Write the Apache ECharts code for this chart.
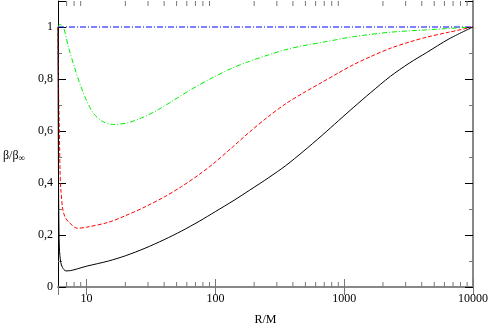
<!DOCTYPE html>
<html>
<head>
<meta charset="utf-8">
<script src="https://cdn.jsdelivr.net/npm/echarts@6/dist/echarts.min.js"></script>
<style>
  html, body { margin: 0; padding: 0; background: #fff; }
  #chart { width: 491px; height: 331px; }
</style>
</head>
<body>
<div id="chart"></div>
<script>
// R/M sample points and beta/beta_inf
const blackR = [6, 6.03, 6.08, 6.15, 6.3, 6.5, 6.9, 7.5, 8.5, 10, 14.8, 20, 28.4, 40, 54.5, 75, 100, 140, 184, 260, 352, 480, 676, 900, 1189, 1600, 2280, 3200, 4375, 6500, 10000]
const blackB = [1, 0.6, 0.3, 0.15, 0.095, 0.075, 0.062, 0.063, 0.07, 0.08, 0.1, 0.12, 0.149, 0.182, 0.215, 0.253, 0.29, 0.334, 0.372, 0.421, 0.467, 0.521, 0.584, 0.639, 0.692, 0.747, 0.81, 0.861, 0.902, 0.954, 1]

const redR = [6, 6.03, 6.08, 6.15, 6.22, 6.3, 6.53, 6.8, 7.26, 8.5, 10, 14.8, 20, 28.4, 40, 54.5, 75, 95.7, 135, 184, 260, 352, 480, 676, 900, 1189, 1600, 2280, 3200, 4375, 6500, 10000]
const redB = [1, 0.88, 0.72, 0.6, 0.45, 0.38, 0.3, 0.27, 0.25, 0.226, 0.23, 0.249, 0.274, 0.308, 0.346, 0.386, 0.433, 0.473, 0.537, 0.596, 0.657, 0.705, 0.746, 0.788, 0.823, 0.856, 0.886, 0.918, 0.942, 0.961, 0.98, 1]

const greenR = [6, 6.2, 6.6, 7.26, 8, 8.9, 10, 11.3, 13.5, 16.2, 21, 26.7, 36, 45.6, 65, 95.7, 135, 184, 260, 352, 480, 676, 1189, 2280, 4375, 10000]
const greenB = [1, 1.01, 1, 0.92, 0.85, 0.78, 0.717, 0.668, 0.635, 0.625, 0.632, 0.65, 0.682, 0.713, 0.76, 0.806, 0.842, 0.868, 0.893, 0.913, 0.928, 0.941, 0.963, 0.98, 0.989, 1]

const blueR = [6, 10000]
const blueB = [1, 1]

const xMinorTicks = [7, 8, 9, 20, 30, 40, 50, 60, 70, 80, 90, 200, 300, 400, 500, 600, 700, 800, 900, 2000, 3000, 4000, 5000, 6000, 7000, 8000, 9000]

const pairs = (xs, ys) => xs.map((x, i) => [x, ys[i]])
const serif = 'Liberation Serif, serif'
const comma = v => String(v).replace('.', ',')

const chart = echarts.init(document.getElementById('chart'))
chart.setOption({
  animation: false,
  textStyle: { fontFamily: serif },
  grid: { left: 58, right: 15, top: 1, bottom: 39 },
  xAxis: [
    {
      type: 'log', min: 6, max: 10000, logBase: 10,
      name: 'R/M', nameLocation: 'middle', nameGap: 27,
      nameTextStyle: { fontFamily: serif, fontSize: 12, color: '#000' },
      axisLine: { lineStyle: { color: '#000', width: 1 } },
      axisTick: { inside: true, length: 8, lineStyle: { color: '#777' } },
      axisLabel: { fontFamily: serif, fontSize: 12, color: '#000', margin: 6, showMinLabel: false, formatter: v => String(v) },
      splitLine: { show: false }
    },
    {
      type: 'log', min: 6, max: 10000, logBase: 10, position: 'top',
      axisLine: { lineStyle: { color: '#888', width: 2 } },
      axisTick: { inside: true, length: 8, lineStyle: { color: '#777' } },
      axisLabel: { show: false },
      splitLine: { show: false }
    }
  ],
  yAxis: [
    {
      type: 'value', min: 0, max: 1.1, interval: 0.2,
      axisLine: { show: true, lineStyle: { color: '#000', width: 1 } },
      axisTick: { inside: true, length: 8, lineStyle: { color: '#000' } },
      minorTick: { show: true, splitNumber: 2, length: 4, lineStyle: { color: '#777' } },
      axisLabel: { fontFamily: serif, fontSize: 12, color: '#000', margin: 5, showMaxLabel: false, formatter: comma },
      splitLine: { show: false }
    },
    {
      type: 'value', min: 0, max: 1.1, interval: 0.2, position: 'right',
      axisLine: { show: true, lineStyle: { color: '#888', width: 2 } },
      axisTick: { inside: true, length: 8, lineStyle: { color: '#000' } },
      minorTick: { show: true, splitNumber: 2, length: 4, lineStyle: { color: '#777' } },
      axisLabel: { show: false },
      splitLine: { show: false }
    }
  ],
  graphic: [{
    type: 'text', left: 3, top: 150,
    style: {
      text: '{a|β/β}{s|∞}',
      rich: {
        a: { fontFamily: serif, fontSize: 12, fill: '#000' },
        s: { fontFamily: serif, fontSize: 9, fill: '#000', padding: [6, 0, 0, 0] }
      }
    }
  }],
  series: [
    {
      type: 'line', data: pairs(blueR, blueB), showSymbol: false,
      lineStyle: { color: '#0000ff', width: 1, type: [6, 2, 1, 2] }
    },
    {
      type: 'line', data: pairs(greenR, greenB), showSymbol: false, smooth: 0.3,
      lineStyle: { color: '#00ee00', width: 1, type: [5, 2, 1, 2] }
    },
    {
      type: 'line', data: pairs(redR, redB), showSymbol: false, smooth: 0.3,
      lineStyle: { color: '#ff0000', width: 1, type: [4, 2] }
    },
    {
      type: 'line', data: pairs(blackR, blackB), showSymbol: false, smooth: 0.3,
      lineStyle: { color: '#000', width: 1 }
    },
    {
      // minor ticks of the log axis, bottom and top
      type: 'custom', data: xMinorTicks.map(v => [v, 0]), silent: true, clip: false,
      renderItem: (params, api) => {
        const cs = params.coordSys
        const x = api.coord([api.value(0), 0])[0]
        const st = { stroke: '#777', lineWidth: 1 }
        return {
          type: 'group', children: [
            { type: 'line', shape: { x1: x, y1: cs.y + cs.height, x2: x, y2: cs.y + cs.height - 5 }, style: st },
            { type: 'line', shape: { x1: x, y1: cs.y, x2: x, y2: cs.y + 5 }, style: st }
          ]
        }
      }
    }
  ]
})
</script>
</body>
</html>
